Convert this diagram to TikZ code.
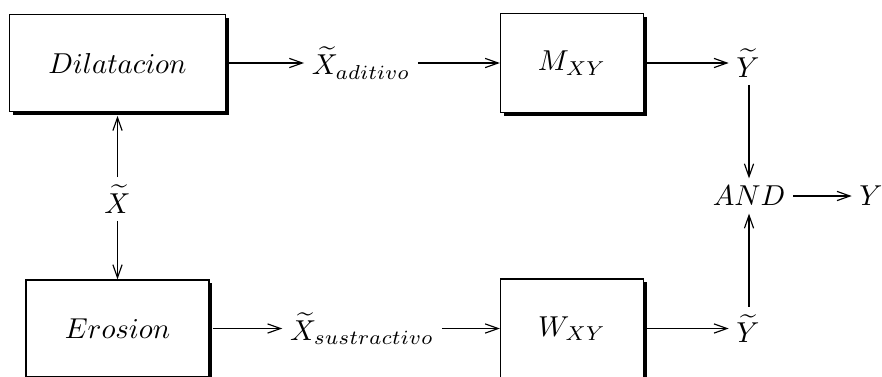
\documentclass[tikz,border=0pt]{standalone}
\usetikzlibrary{arrows.meta,shadows}
\def\u{0.3472pt}
\begin{document}
\begin{tikzpicture}[x=\u,y=-\u,
  sbox/.style={draw, fill=white, line width=0.45pt, inner sep=0pt,
    drop shadow={shadow xshift=1.1pt, shadow yshift=-1.1pt, fill=black, opacity=1}},
  lbl/.style={inner sep=2.5pt},
  conn/.style={line width=0.4pt, -{Straight Barb[length=4.5pt,width=3.2pt]}}]
\path[use as bounding box] (0,0) rectangle (882,376);
\clip (0,0) rectangle (882,376);
% boxes
\node[sbox, minimum width=216*\u, minimum height=97*\u] (dil) at (117.5,63) {$Dilatacion$};
\node[sbox, minimum width=143*\u, minimum height=99*\u] (m) at (572,63) {$M_{XY}$};
\node[sbox, minimum width=183*\u, minimum height=97*\u] (ero) at (117.5,328.5) {$Erosion$};
\node[sbox, minimum width=143*\u, minimum height=99*\u] (w) at (572,328.5) {$W_{XY}$};
% labels
\node[lbl] (xa) at (361,63) {$\widetilde{X}_{aditivo}$};
\node[lbl] (y1) at (748,63) {$\widetilde{Y}$};
\node[lbl] (xt) at (117.5,199) {$\widetilde{X}$};
\node[lbl] (and) at (749,196) {$AND$};
\node[lbl] (yout) at (871,196) {$Y$};
\node[lbl] (xs) at (362,328.5) {$\widetilde{X}_{sustractivo}$};
\node[lbl] (y2) at (748,328.5) {$\widetilde{Y}$};
% connectors
\draw[conn] (dil.east) -- (xa.west);
\draw[conn] (xa.east) -- (m.west);
\draw[conn] ([xshift=1.1pt]m.east) -- (y1.west);
\draw[conn] (y1.south -| and.north) -- (and.north);
\draw[conn] (y2.north -| and.south) -- (and.south);
\draw[conn] (and.east) -- (yout.west);
\draw[conn] (xt.north) -- ([yshift=-1.3pt]dil.south);
\draw[conn] (xt.south) -- (ero.north);
\draw[conn] ([xshift=1.1pt]ero.east) -- (xs.west);
\draw[conn] (xs.east) -- (w.west);
\draw[conn] ([xshift=1.1pt]w.east) -- (y2.west);
\end{tikzpicture}
\end{document}
